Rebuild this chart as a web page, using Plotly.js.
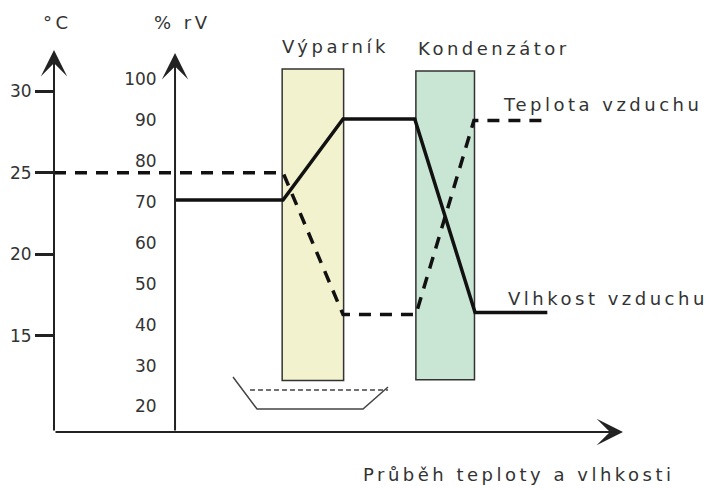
<!DOCTYPE html>
<html><head><meta charset="utf-8">
<script src="https://cdn.plot.ly/plotly-3.0.1.min.js"></script>
<style>
html,body{margin:0;padding:0;background:#fff;}
#chart{width:708px;height:489px;}
.annotation-text{letter-spacing:3.5px;}
</style></head><body><div id="chart"></div>
<script>
// ---- data ----
const tempTicks = [15, 20, 25, 30];
const humTicks = [20, 30, 40, 50, 60, 70, 80, 90, 100];
// process position along the air path (0..100)
const tempX = [0, 40.25, 50.8, 63.6, 73.8, 86.7];
const tempY = [25, 25, 16.3, 16.3, 28.2, 28.2];
const humX = [21.27, 40.25, 50.8, 63.4, 74.0, 86.7];
const humY = [70.5, 70.5, 90.3, 90.3, 43, 43];
const unitNames = ['Výparník', 'Kondenzátor'];
const unitX0 = [40.1, 63.6];
const unitX1 = [50.9, 73.9];
const unitTop = [31.36, 31.24];
const unitBottom = [12.26, 12.3];
const trayX = [31.46, 35.68, 54.31, 58.70];
const trayY = [12.47, 10.51, 10.51, 11.86];
const trayWaterX = [34.45, 58.7];
const trayWaterY = [11.68, 11.68];
const seriesNames = ['Teplota vzduchu', 'Vlhkost vzduchu'];
const axisTitles = ['°C', '% rV'];
const xTitle = 'Průběh teploty a vlhkosti';

// ---- layout geometry ----
const W = 708, H = 489;
const mL = 54, mR = 85, mT = 50, mB = 57;
const xRange = [0, 100];
const yRange = [9.10, 32.52];
const y2Range = [13.77, 107.16];
const rhAxisX = 21.27;
const pw = W - mL - mR, ph = H - mT - mB;
const px = v => (v - mL) / pw;
const py = v => (H - mB - v) / ph;

const fontFam = 'DejaVu Sans, Verdana, sans-serif';
const txtCol = '#333';
const unitFill = ['#f3f2cf', '#c9e5d3'];

const traces = [
  {x: trayX, y: trayY, mode: 'lines', line: {color: '#444', width: 1.5}, hoverinfo: 'skip'},
  {x: trayWaterX, y: trayWaterY, mode: 'lines', line: {color: '#444', width: 1.5, dash: '5px,3px'}, hoverinfo: 'skip'},
  {x: tempX, y: tempY, name: seriesNames[0], mode: 'lines', line: {color: '#111', width: 3.5, dash: '12px,9px'}},
  {x: humX, y: humY, name: seriesNames[1], yaxis: 'y2', mode: 'lines', line: {color: '#111', width: 3.5}}
];

const shapes = unitNames.map((n, i) => ({
  type: 'rect', xref: 'x', yref: 'y', layer: 'below',
  x0: unitX0[i], x1: unitX1[i], y0: unitBottom[i], y1: unitTop[i],
  fillcolor: unitFill[i], line: {color: '#333', width: 1.5}
}));

const arrowBase = {showarrow: true, text: '', arrowhead: 3, arrowsize: 2.2, arrowwidth: 2, arrowcolor: '#222', standoff: 0, startstandoff: 0};
const annotations = [
  Object.assign({}, arrowBase, {xref: 'x', yref: 'y', axref: 'x', ayref: 'y', x: xRange[0], y: yRange[1], ax: xRange[0], ay: yRange[0]}),
  Object.assign({}, arrowBase, {xref: 'x', yref: 'y2', axref: 'x', ayref: 'y2', x: rhAxisX, y: 106.4, ax: rhAxisX, ay: y2Range[0]}),
  Object.assign({}, arrowBase, {xref: 'x', yref: 'y', axref: 'x', ayref: 'y', x: xRange[1], y: yRange[0], ax: xRange[0], ay: yRange[0]})
];
const labels = [
  [axisTitles[0], 57, 22],
  [axisTitles[1], 182, 22],
  [unitNames[0], 335, 46],
  [unitNames[1], 494, 48],
  [seriesNames[0], 602, 105],
  [seriesNames[1], 608, 298],
  [xTitle, 519, 474]
];
labels.forEach(([t, x, y]) => annotations.push({
  xref: 'paper', yref: 'paper', x: px(x), y: py(y), xanchor: 'center', yanchor: 'middle',
  showarrow: false, text: t, font: {family: fontFam, size: 18, color: txtCol}
}));

const layout = {
  width: W, height: H, margin: {l: mL, r: mR, t: mT, b: mB},
  paper_bgcolor: '#fff', plot_bgcolor: '#fff', showlegend: false,
  xaxis: {range: xRange, visible: true, showline: false, showgrid: false, zeroline: false, showticklabels: false, ticks: '', fixedrange: true},
  yaxis: {range: yRange, tickvals: tempTicks, ticks: 'outside', ticklen: 18, tickwidth: 3, tickcolor: '#222',
    showline: false, showgrid: false, zeroline: false, automargin: false,
    tickfont: {family: fontFam, size: 17, color: txtCol}, fixedrange: true},
  yaxis2: {range: y2Range, overlaying: 'y', anchor: 'free', position: px(175), side: 'left',
    tickvals: humTicks, ticks: 'outside', ticklen: 15, tickcolor: 'rgba(0,0,0,0)',
    showline: false, showgrid: false, zeroline: false, automargin: false,
    tickfont: {family: fontFam, size: 17, color: txtCol}, fixedrange: true},
  shapes: shapes, annotations: annotations
};
Plotly.newPlot('chart', traces, layout, {staticPlot: true, displayModeBar: false});
</script></body></html>
